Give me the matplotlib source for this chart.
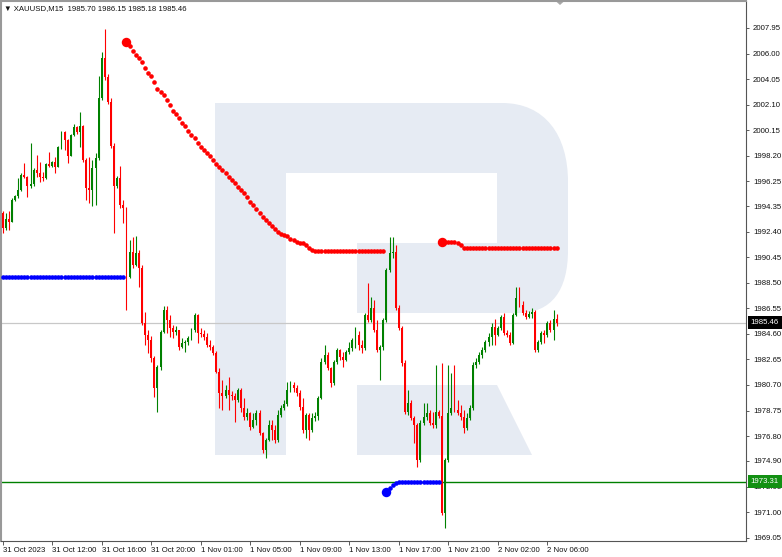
import matplotlib
matplotlib.use('Agg')
import matplotlib.pyplot as plt
from matplotlib.patches import Polygon, PathPatch
from matplotlib.path import Path
import numpy as np

plt.rcParams['font.family'] = ['Liberation Sans', 'DejaVu Sans']

symbol = 'XAUUSD,M15'
first_open = 1993.82

closes = [
    1992.67, 1993.36, 1993.13, 1994.81, 1995.12, 1995.57, 1996.72, 1996.57, 1995.88, 1996.03,
    1997.10, 1996.87, 1996.57, 1996.49, 1997.56, 1997.41, 1997.71, 1997.33, 1998.86, 2000.01,
    1999.39, 1998.17, 1999.78, 2000.39, 2000.01, 2000.46, 1997.87, 1995.73, 1995.57, 1997.25,
    1998.02, 2002.60, 2005.66, 2004.21, 2002.30, 1998.94, 1995.88, 1996.49, 1994.43, 1994.20,
    1988.93, 1990.84, 1989.84, 1990.76, 1989.61, 1985.41, 1984.50, 1984.11, 1982.74, 1980.45,
    1982.05, 1984.73, 1986.41, 1985.64, 1985.03, 1984.73, 1984.88, 1983.58, 1983.88, 1983.96,
    1984.27, 1984.88, 1986.02, 1984.65, 1984.57, 1984.34, 1983.73, 1983.58, 1983.12, 1981.67,
    1980.06, 1979.84, 1980.29, 1979.91, 1979.84, 1979.53, 1980.29, 1978.92, 1978.23, 1978.54,
    1977.47, 1978.00, 1978.54, 1977.01, 1975.71, 1976.47, 1977.62, 1977.24, 1976.47, 1978.38,
    1978.92, 1979.22, 1980.29, 1980.68, 1980.45, 1980.06, 1979.00, 1977.24, 1978.38, 1977.24,
    1978.15, 1978.31, 1979.68, 1982.43, 1982.97, 1981.97, 1980.83, 1982.43, 1983.35, 1982.82,
    1982.59, 1983.20, 1983.50, 1984.11, 1984.50, 1983.73, 1983.50, 1986.02, 1985.64, 1986.56,
    1984.88, 1983.35, 1983.58, 1985.64, 1989.46, 1990.76, 1990.84, 1986.56, 1985.03, 1982.36,
    1978.61, 1979.30, 1978.15, 1977.62, 1974.95, 1977.77, 1978.23, 1978.54, 1977.77, 1977.62,
    1978.61, 1978.31, 1970.90, 1974.95, 1978.54, 1978.92, 1978.77, 1978.54, 1978.23, 1977.39,
    1978.15, 1978.92, 1982.20, 1982.43, 1982.97, 1983.35, 1983.96, 1984.34, 1985.11, 1984.50,
    1985.03, 1985.87, 1984.65, 1984.50, 1983.88, 1986.02, 1987.32, 1986.79, 1986.18, 1985.87,
    1986.10, 1986.25, 1983.35, 1983.96, 1984.65, 1984.50, 1985.41, 1984.88, 1985.70, 1985.46,
]

highs = [
    1993.97, 1993.82, 1993.97, 1994.96, 1995.19, 1996.49, 1996.87, 1997.64, 1996.64, 1999.16,
    1997.25, 1998.25, 1997.71, 1996.95, 1997.64, 1998.48, 1997.79, 1998.10, 1998.94, 2000.08,
    2000.08, 1999.50, 1999.85, 2000.62, 2000.46, 2001.53, 2000.54, 1998.02, 1998.10, 1997.87,
    1998.40, 2004.28, 2006.12, 2007.87, 2004.44, 2002.60, 1999.16, 1996.64, 1997.41, 1994.81,
    1994.28, 1991.75, 1991.98, 1992.06, 1990.99, 1989.84, 1986.25, 1984.88, 1984.42, 1982.89,
    1982.20, 1984.88, 1986.71, 1986.71, 1986.02, 1985.26, 1985.18, 1984.88, 1984.27, 1984.11,
    1984.42, 1985.03, 1986.18, 1986.10, 1985.03, 1984.88, 1984.65, 1984.11, 1983.73, 1983.27,
    1981.97, 1981.06, 1980.68, 1981.29, 1980.22, 1980.06, 1980.45, 1980.45, 1979.68, 1978.92,
    1978.61, 1978.54, 1978.77, 1978.77, 1977.09, 1976.63, 1978.00, 1978.00, 1977.62, 1978.77,
    1979.15, 1979.53, 1980.91, 1980.98, 1980.91, 1980.68, 1980.29, 1979.68, 1978.54, 1978.54,
    1978.54, 1978.61, 1979.84, 1982.74, 1983.73, 1983.20, 1982.10, 1982.59, 1983.50, 1983.43,
    1983.20, 1983.35, 1983.96, 1984.27, 1985.11, 1984.80, 1984.11, 1986.18, 1988.47, 1987.40,
    1987.17, 1985.64, 1983.73, 1985.79, 1989.61, 1991.98, 1991.98, 1991.37, 1986.79, 1985.18,
    1982.59, 1980.29, 1979.53, 1978.31, 1977.77, 1978.00, 1979.30, 1979.30, 1978.77, 1978.61,
    1982.20, 1978.77, 1982.36, 1975.10, 1982.20, 1981.59, 1982.20, 1979.53, 1979.15, 1978.77,
    1978.54, 1979.15, 1982.43, 1982.74, 1983.20, 1983.58, 1984.11, 1984.65, 1985.41, 1985.72,
    1985.18, 1986.02, 1986.18, 1984.88, 1984.73, 1986.18, 1988.16, 1988.16, 1987.09, 1986.41,
    1986.33, 1986.56, 1986.40, 1984.11, 1984.80, 1984.88, 1985.57, 1985.64, 1986.41, 1986.15,
]

lows = [
    1992.29, 1992.52, 1992.52, 1993.13, 1994.73, 1994.96, 1995.50, 1996.49, 1995.04, 1995.73,
    1995.88, 1996.57, 1996.19, 1996.26, 1996.41, 1997.33, 1997.33, 1996.87, 1997.33, 1998.71,
    1998.63, 1997.64, 1998.17, 1999.70, 1999.85, 1998.86, 1997.71, 1994.81, 1994.58, 1994.35,
    1994.43, 1997.87, 2002.45, 2003.98, 2002.14, 1998.78, 1992.29, 1995.73, 1994.20, 1993.05,
    1986.41, 1988.85, 1989.61, 1989.77, 1988.16, 1985.26, 1983.73, 1983.12, 1982.43, 1979.76,
    1978.61, 1981.82, 1984.65, 1984.65, 1984.34, 1984.27, 1984.50, 1983.35, 1983.50, 1983.20,
    1983.73, 1984.11, 1984.73, 1983.88, 1984.34, 1984.11, 1983.58, 1983.35, 1982.97, 1981.59,
    1978.92, 1978.77, 1979.68, 1978.77, 1979.53, 1977.85, 1979.38, 1978.61, 1978.00, 1978.00,
    1977.24, 1977.39, 1977.62, 1976.86, 1975.48, 1975.10, 1976.40, 1976.47, 1976.24, 1976.32,
    1978.23, 1978.77, 1979.07, 1980.14, 1980.14, 1979.84, 1978.77, 1977.01, 1976.63, 1976.47,
    1977.09, 1977.93, 1978.00, 1979.61, 1982.28, 1981.82, 1980.52, 1980.68, 1982.28, 1982.59,
    1982.05, 1982.50, 1983.04, 1983.27, 1983.50, 1983.35, 1983.12, 1983.35, 1985.49, 1985.49,
    1984.73, 1983.20, 1981.06, 1983.35, 1985.49, 1989.31, 1990.38, 1986.41, 1984.88, 1982.13,
    1978.46, 1978.38, 1978.00, 1976.24, 1974.41, 1974.79, 1977.62, 1978.00, 1977.62, 1977.39,
    1977.39, 1978.15, 1970.74, 1969.75, 1974.79, 1978.38, 1978.61, 1978.38, 1978.00, 1977.01,
    1977.24, 1978.00, 1978.77, 1981.97, 1982.28, 1982.74, 1983.20, 1983.66, 1983.73, 1983.73,
    1984.42, 1984.88, 1984.50, 1984.34, 1983.73, 1983.81, 1985.95, 1986.64, 1986.02, 1985.72,
    1985.79, 1985.79, 1983.20, 1983.25, 1983.81, 1983.88, 1984.34, 1984.73, 1984.11, 1985.18,
]

# trailing stop indicator, split in its segments (first bar index, values)
blue_stop_1 = (0, [
    1988.97, 1988.97, 1988.97, 1988.97, 1988.97, 1988.97, 1988.97, 1988.97, 1988.97, 1988.97,
    1988.97, 1988.97, 1988.97, 1988.97, 1988.97, 1988.97, 1988.97, 1988.97, 1988.97, 1988.97,
    1988.97, 1988.97, 1988.97, 1988.97, 1988.97, 1988.97, 1988.97, 1988.97, 1988.97, 1988.97,
    1988.97, 1988.97, 1988.97, 1988.97, 1988.97, 1988.97, 1988.97, 1988.97, 1988.97, 1988.97,
])
red_stop_1 = (40, [
    2006.90, 2006.55, 2006.20, 2005.90, 2005.65, 2005.35, 2004.90, 2004.50, 2004.25, 2003.80,
    2003.30, 2003.10, 2002.80, 2002.45, 2002.10, 2001.65, 2001.35, 2001.05, 2000.70, 2000.45,
    2000.10, 1999.80, 1999.55, 1999.15, 1998.90, 1998.65, 1998.40, 1998.15, 1997.85, 1997.60,
    1997.35, 1997.10, 1996.85, 1996.60, 1996.35, 1996.10, 1995.85, 1995.60, 1995.35, 1995.05,
    1994.70, 1994.40, 1994.10, 1993.80, 1993.55, 1993.30, 1993.10, 1992.85, 1992.60, 1992.40,
    1992.25, 1992.15, 1992.05, 1991.85, 1991.75, 1991.65, 1991.55, 1991.50, 1991.35, 1991.15,
    1991.00, 1990.95, 1990.95, 1990.95, 1990.95, 1990.95, 1990.95, 1990.95, 1990.95, 1990.95,
    1990.95, 1990.95, 1990.95, 1990.95, 1990.95, 1990.95, 1990.95, 1990.95, 1990.95, 1990.95,
    1990.95, 1990.95, 1990.95, 1990.95,
])
blue_stop_2 = (124, [
    1972.55, 1972.85, 1973.10, 1973.20, 1973.27, 1973.27, 1973.27, 1973.27, 1973.27, 1973.27,
    1973.27, 1973.27, 1973.27, 1973.27, 1973.27, 1973.27, 1973.27, 1973.27,
])
red_stop_2 = (142, [
    1991.64, 1991.64, 1991.64, 1991.64, 1991.64, 1991.55, 1991.35, 1991.15, 1991.12, 1991.12,
    1991.12, 1991.12, 1991.12, 1991.12, 1991.12, 1991.12, 1991.12, 1991.12, 1991.12, 1991.12,
    1991.12, 1991.12, 1991.12, 1991.12, 1991.12, 1991.12, 1991.12, 1991.12, 1991.12, 1991.12,
    1991.12, 1991.12, 1991.12, 1991.12, 1991.12, 1991.12, 1991.12, 1991.12,
])

level_line = 1973.31

price_ticks = [2007.95, 2006.00, 2004.05, 2002.10, 2000.15, 1998.20, 1996.25, 1994.35,
               1992.40, 1990.45, 1988.50, 1986.55, 1984.60, 1982.65, 1980.70, 1978.75,
               1976.80, 1974.90, 1972.95, 1971.00, 1969.05]
time_labels = ['31 Oct 2023', '31 Oct 12:00', '31 Oct 16:00', '31 Oct 20:00',
               '1 Nov 01:00', '1 Nov 05:00', '1 Nov 09:00', '1 Nov 13:00',
               '1 Nov 17:00', '1 Nov 21:00', '2 Nov 02:00', '2 Nov 06:00']
bars_per_label = 16

BULL = '#008000'
BEAR = '#ff0000'
W, H = 782, 557

fig = plt.figure(figsize=(W / 100, H / 100), dpi=100)

# background layer in pixel units (watermark, chart marker)
bg = fig.add_axes([0, 0, 1, 1])
bg.set_xlim(0, W)
bg.set_ylim(H, 0)
bg.axis('off')
wm = '#e6ebf3'
verts = [(215, 103), (502, 103), (545, 103), (568, 135), (568, 182), (568, 250),
         (568, 290), (552, 313), (518, 313), (357, 313), (357, 243), (497, 243),
         (497, 173), (286, 173), (286, 455), (215, 455), (215, 103)]
codes = [Path.MOVETO, Path.LINETO, Path.CURVE4, Path.CURVE4, Path.CURVE4, Path.LINETO,
         Path.CURVE4, Path.CURVE4, Path.CURVE4, Path.LINETO, Path.LINETO, Path.LINETO,
         Path.LINETO, Path.LINETO, Path.LINETO, Path.LINETO, Path.CLOSEPOLY]
bg.add_patch(PathPatch(Path(verts, codes), fc=wm, ec='none'))
bg.add_patch(Polygon([(357, 385), (497, 385), (532, 455), (357, 455)], fc=wm, ec='none'))
bg.add_patch(Polygon([(555, 0.5), (565, 0.5), (560, 5)], fc='#a8a8a8', ec='none'))

ax = fig.add_axes([1 / W, (H - 541) / H, 745 / W, 540 / H])
ax.set_facecolor('none')
ax.set_zorder(2)

closes = np.array(closes)
highs = np.array(highs)
lows = np.array(lows)
opens = np.r_[first_open, closes[:-1]]
idx = np.arange(len(closes))
colors = np.where(closes >= opens, BULL, BEAR)

ax.axhline(closes[-1], color='#c8c8c8', lw=0.9, zorder=1)
ax.axhline(level_line, color=BULL, lw=1.0, zorder=2)

ax.vlines(idx, lows, highs, colors=colors, linewidth=0.8, zorder=3)
body_h = np.maximum(np.abs(closes - opens), 0.06)
ax.bar(idx, body_h, bottom=np.minimum(opens, closes), width=0.62,
       color=colors, linewidth=0, zorder=3)

for (start, vals), col in [(blue_stop_1, '#0000ff'), (red_stop_1, '#ff0000'),
                           (blue_stop_2, '#0000ff'), (red_stop_2, '#ff0000')]:
    xs = np.arange(start, start + len(vals))
    ax.plot(xs, vals, 'o', color=col, ms=3.3, mew=0, zorder=4)
    if start > 0:
        ax.plot(xs[0], vals[0], 'o', color=col, ms=6.8, mew=0, zorder=4)

ax.set_xlim(-0.55, 240.2)
ax.set_ylim(1968.79, 2010.01)

ax.yaxis.tick_right()
ax.set_yticks(price_ticks)
ax.set_yticklabels([f'{v:.2f}' for v in price_ticks])
ax.tick_params(axis='y', direction='out', length=2.5, width=0.6, pad=2.5,
               labelsize=5.6, color='#404040', labelcolor='#111111')

ax.set_xticks(np.arange(len(time_labels)) * bars_per_label)
ax.set_xticklabels(time_labels, ha='left')
ax.tick_params(axis='x', direction='out', length=3, width=0.6, pad=1.5,
               labelsize=5.6, color='#404040', labelcolor='#111111')

for side in ['left', 'top']:
    ax.spines[side].set_color('#999999')
    ax.spines[side].set_linewidth(1.5)
for side in ['right', 'bottom']:
    ax.spines[side].set_color('#555555')
    ax.spines[side].set_linewidth(0.8)

ytr = ax.get_yaxis_transform()
ax.text(1.006, closes[-1], f'{closes[-1]:.2f}', transform=ytr, ha='left', va='center',
        fontsize=5.6, color='white', zorder=10, clip_on=False,
        bbox=dict(boxstyle='square,pad=0.38', fc='black', ec='none'))
ax.text(1.006, level_line, f'{level_line:.2f}', transform=ytr, ha='left', va='center',
        fontsize=5.6, color='white', zorder=10, clip_on=False,
        bbox=dict(boxstyle='square,pad=0.38', fc='#139013', ec='none'))

header = '\u25bc ' + symbol + '  ' + ' '.join(
    f'{v:.2f}' for v in (opens[-1], highs[-1], lows[-1], closes[-1]))
fig.text(4 / W, 1 - 9 / H, header, fontsize=5.6, color='#111111', va='center', ha='left')

fig.savefig('out.png', dpi=100)
